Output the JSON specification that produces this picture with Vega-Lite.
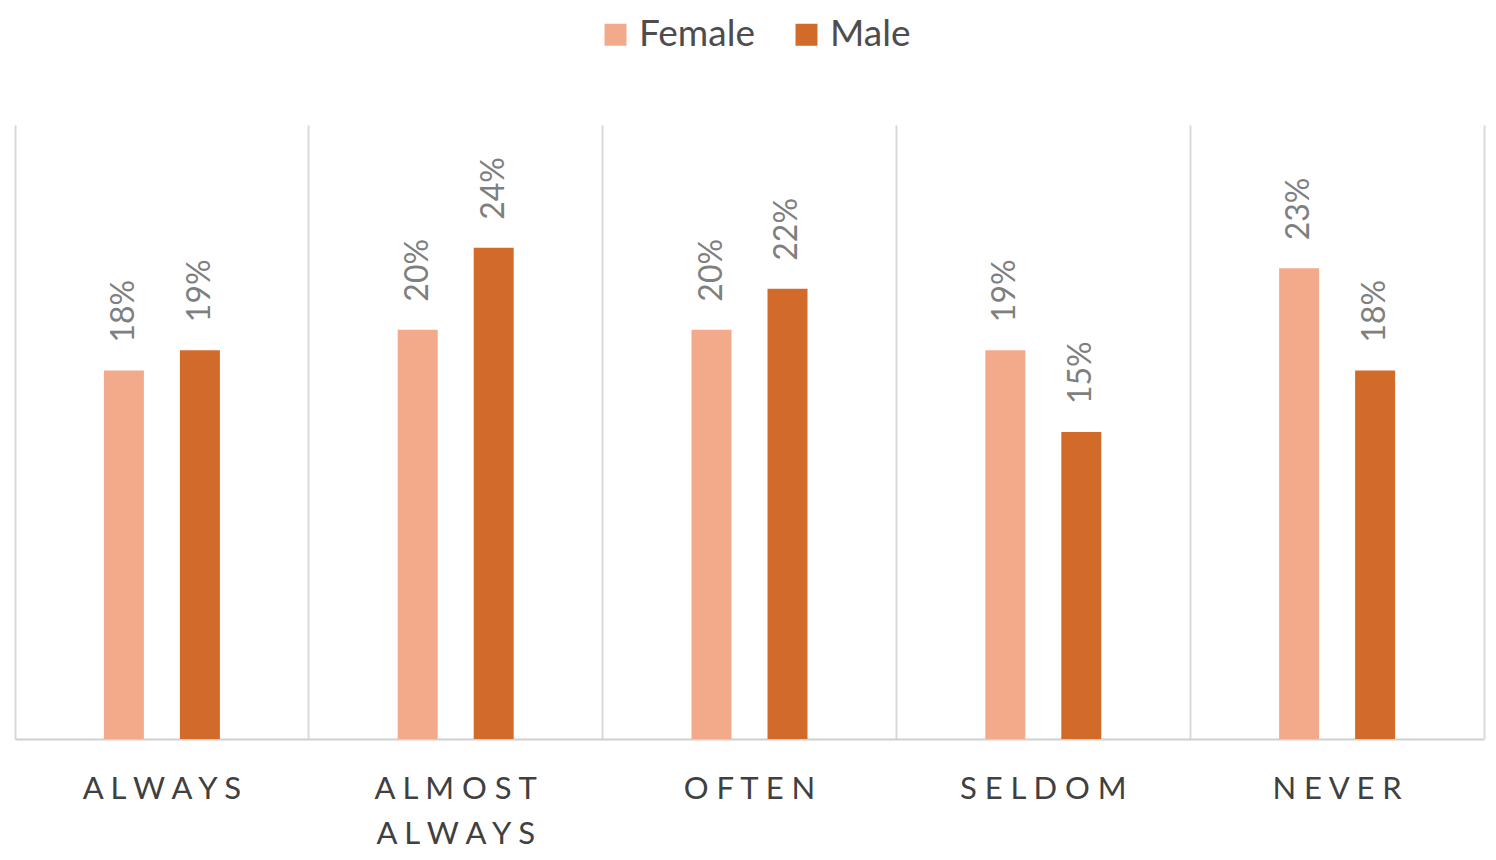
{
  "$schema": "https://vega.github.io/schema/vega-lite/v6.json",
  "width": 1469,
  "height": 614,
  "autosize": "none",
  "padding": {"left": 15, "top": 125, "right": 12, "bottom": 121},
  "background": "white",
  "config": {"view": {"stroke": null}, "font": "Lato"},
  "data": {"values": [
    {"cat": "ALWAYS", "sex": "Female", "pct": 0.18},
    {"cat": "ALWAYS", "sex": "Male", "pct": 0.19},
    {"cat": "ALMOST ALWAYS", "sex": "Female", "pct": 0.20},
    {"cat": "ALMOST ALWAYS", "sex": "Male", "pct": 0.24},
    {"cat": "OFTEN", "sex": "Female", "pct": 0.20},
    {"cat": "OFTEN", "sex": "Male", "pct": 0.22},
    {"cat": "SELDOM", "sex": "Female", "pct": 0.19},
    {"cat": "SELDOM", "sex": "Male", "pct": 0.15},
    {"cat": "NEVER", "sex": "Female", "pct": 0.23},
    {"cat": "NEVER", "sex": "Male", "pct": 0.18}
  ]},
  "encoding": {
    "x": {
      "field": "cat", "type": "nominal",
      "sort": ["ALWAYS", "ALMOST ALWAYS", "OFTEN", "SELDOM", "NEVER"],
      "scale": {"paddingInner": 0, "paddingOuter": 0},
      "axis": {
        "title": null, "labelAngle": 0, "ticks": false,
        "domainColor": "#d0d0d0", "domainWidth": 2,
        "grid": true, "bandPosition": 0, "gridColor": "#d9d9d9", "gridWidth": 2,
        "labelFont": "Lato", "labelFontSize": 31, "labelColor": "#404040",
        "labelPadding": 35, "labelLineHeight": 45, "labelBaseline": "top",
        "labelExpr": "datum.value == 'ALMOST ALWAYS' ? ['A L M O S T', 'A L W A Y S'] : join(split(datum.value, ''), ' ')"
      }
    },
    "xOffset": {
      "field": "sex", "type": "nominal",
      "scale": {"paddingInner": 0, "paddingOuter": 0.933}
    },
    "y": {
      "field": "pct", "type": "quantitative",
      "scale": {"domain": [0, 0.3], "nice": false},
      "axis": null
    }
  },
  "layer": [
    {
      "mark": {"type": "bar", "width": 40},
      "encoding": {
        "color": {
          "field": "sex", "type": "nominal",
          "scale": {"domain": ["Female", "Male"], "range": ["#F3AA8B", "#D26B2A"]},
          "legend": {
            "title": null, "orient": "none", "direction": "horizontal",
            "legendX": 582, "legendY": -109,
            "symbolType": "square", "symbolSize": 484, "symbolStrokeWidth": 0,
            "labelFont": "Lato", "labelFontSize": 37, "labelColor": "#4d4d4d",
            "labelOffset": 5, "columnPadding": 33
          }
        }
      }
    },
    {
      "mark": {"type": "text", "angle": 270, "align": "left", "baseline": "middle", "dx": 28, "fontSize": 32, "color": "#7f7f7f", "font": "Lato"},
      "encoding": {
        "text": {"field": "pct", "type": "quantitative", "format": ".0%"}
      }
    },
    {
      "mark": {"type": "rule", "opacity": 0},
      "encoding": {
        "y": {
          "field": "pct", "type": "quantitative",
          "axis": {"orient": "right", "domain": true, "domainColor": "#d9d9d9", "domainWidth": 2, "ticks": false, "labels": false, "grid": false, "title": null}
        }
      }
    }
  ],
  "resolve": {"axis": {"y": "independent"}}
}
